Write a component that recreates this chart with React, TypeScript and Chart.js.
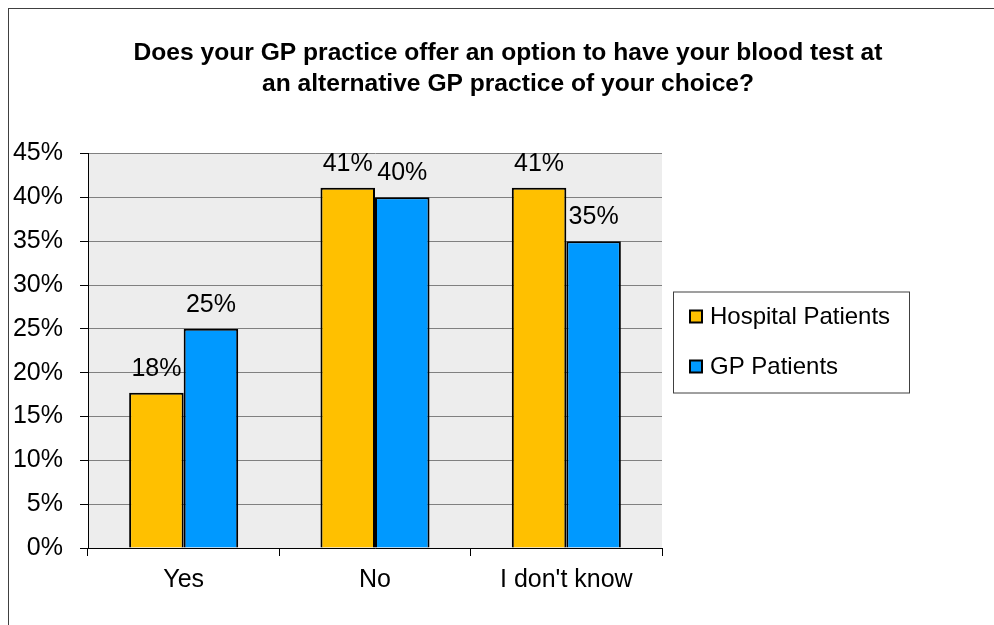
import React, { useEffect, useRef } from "react";
import { Chart, registerables } from "chart.js";

Chart.register(...registerables);

const titleLines = [
  "Does your GP practice offer an option to have your blood test at",
  "an alternative GP practice of your choice?",
];
const categories = ["Yes", "No", "I don't know"];
const hospitalValues = [17.7, 41.1, 41.1];
const gpValues = [25, 40, 35];
const seriesNames = ["Hospital Patients", "GP Patients"];
const seriesColors = ["#FFC000", "#0099FF"];
const yMin = 0;
const yMax = 45;
const yStep = 5;

const FONT = "'Liberation Sans', Arial, Helvetica, sans-serif";

const plotBg = {
  id: "plotBg",
  beforeDraw(chart: any) {
    const { ctx, chartArea } = chart;
    ctx.save();
    ctx.fillStyle = "#EDEDED";
    ctx.fillRect(chartArea.left, chartArea.top, chartArea.right - chartArea.left, chartArea.bottom - chartArea.top);
    ctx.restore();
  },
};

const valueLabels = {
  id: "valueLabels",
  afterDatasetsDraw(chart: any) {
    const { ctx } = chart;
    ctx.save();
    ctx.font = `25px ${FONT}`;
    ctx.fillStyle = "#000";
    ctx.textAlign = "center";
    ctx.textBaseline = "alphabetic";
    chart.data.datasets.forEach((ds: any, i: number) => {
      const meta = chart.getDatasetMeta(i);
      meta.data.forEach((el: any, j: number) => {
        const v = ds.data[j];
        ctx.fillText(Math.round(v) + "%", el.x, el.y - 17);
      });
    });
    ctx.restore();
  },
};

const boxLegend = {
  id: "boxLegend",
  afterDraw(chart: any) {
    const { ctx, chartArea } = chart;
    const left = chartArea.right + 11;
    const top = chartArea.top + 138;
    const w = 236;
    const h = 101;
    ctx.save();
    ctx.strokeStyle = "#404040";
    ctx.lineWidth = 1;
    ctx.strokeRect(left + 0.5, top + 0.5, w, h);
    ctx.font = `24px ${FONT}`;
    ctx.textBaseline = "middle";
    ctx.textAlign = "left";
    chart.data.datasets.forEach((ds: any, i: number) => {
      const cy = top + 25 + i * 50;
      ctx.fillStyle = ds.backgroundColor;
      ctx.fillRect(left + 17, cy - 6, 12, 12);
      ctx.strokeStyle = "#000";
      ctx.lineWidth = 2;
      ctx.strokeRect(left + 17, cy - 6, 12, 12);
      ctx.fillStyle = "#000";
      ctx.fillText(ds.label, left + 37, cy + 1);
    });
    ctx.restore();
  },
};

export default function App() {
  const ref = useRef<HTMLCanvasElement>(null);
  useEffect(() => {
    if (!ref.current) return;
    const chart = new Chart(ref.current, {
      type: "bar",
      data: {
        labels: categories,
        datasets: [
          {
            label: seriesNames[0],
            data: hospitalValues,
            backgroundColor: seriesColors[0],
            borderColor: "#000",
            borderWidth: 2,
            categoryPercentage: 0.57,
            barPercentage: 1,
          },
          {
            label: seriesNames[1],
            data: gpValues,
            backgroundColor: seriesColors[1],
            borderColor: "#000",
            borderWidth: 2,
            categoryPercentage: 0.57,
            barPercentage: 1,
          },
        ],
      },
      options: {
        responsive: false,
        animation: false,
        devicePixelRatio: 1,
        layout: { padding: { left: 0, right: 0, top: 0, bottom: 0 } },
        plugins: {
          legend: { display: false },
          tooltip: { enabled: false },
          title: {
            display: true,
            text: titleLines,
            color: "#000",
            font: { family: FONT, size: 24.6, weight: "bold", lineHeight: 1.25 },
            padding: { top: 38, bottom: 54 },
          },
        },
        scales: {
          x: {
            offset: true,
            grid: {
              offset: true,
              drawOnChartArea: false,
              drawTicks: true,
              tickLength: 8,
              tickColor: "#000",
            },
            border: { display: true, color: "#000", width: 1 },
            ticks: { color: "#000", font: { family: FONT, size: 25 }, padding: 9 },
            afterFit: (s: any) => {
              s.height = 77;
            },
          },
          y: {
            min: yMin,
            max: yMax,
            ticks: {
              stepSize: yStep,
              color: "#000",
              font: { family: FONT, size: 25 },
              padding: 17,
              callback: (v: any) => v + "%",
            },
            grid: { color: "#808080", tickColor: "#000", tickLength: 8, lineWidth: 1 },
            border: { display: true, color: "#000", width: 1 },
            afterFit: (s: any) => {
              s.width = 77;
            },
          },
          y2: {
            type: "linear",
            position: "right",
            display: true,
            grid: { display: false, drawTicks: false },
            ticks: { display: false },
            border: { display: false },
            afterFit: (s: any) => {
              s.width = 343;
            },
          },
        },
      },
      plugins: [plotBg, valueLabels, boxLegend],
    } as any);
    return () => chart.destroy();
  }, []);

  return (
    <>
      <div
        style={{
          position: "fixed",
          left: 8,
          top: 8,
          width: 2000,
          height: 2000,
          borderLeft: "1px solid #404040",
          borderTop: "1px solid #404040",
          boxSizing: "border-box",
        }}
      />
      <canvas
        ref={ref}
        width={994}
        height={625}
        style={{ position: "fixed", left: 11, top: 0, width: 994, height: 625 }}
      />
    </>
  );
}
